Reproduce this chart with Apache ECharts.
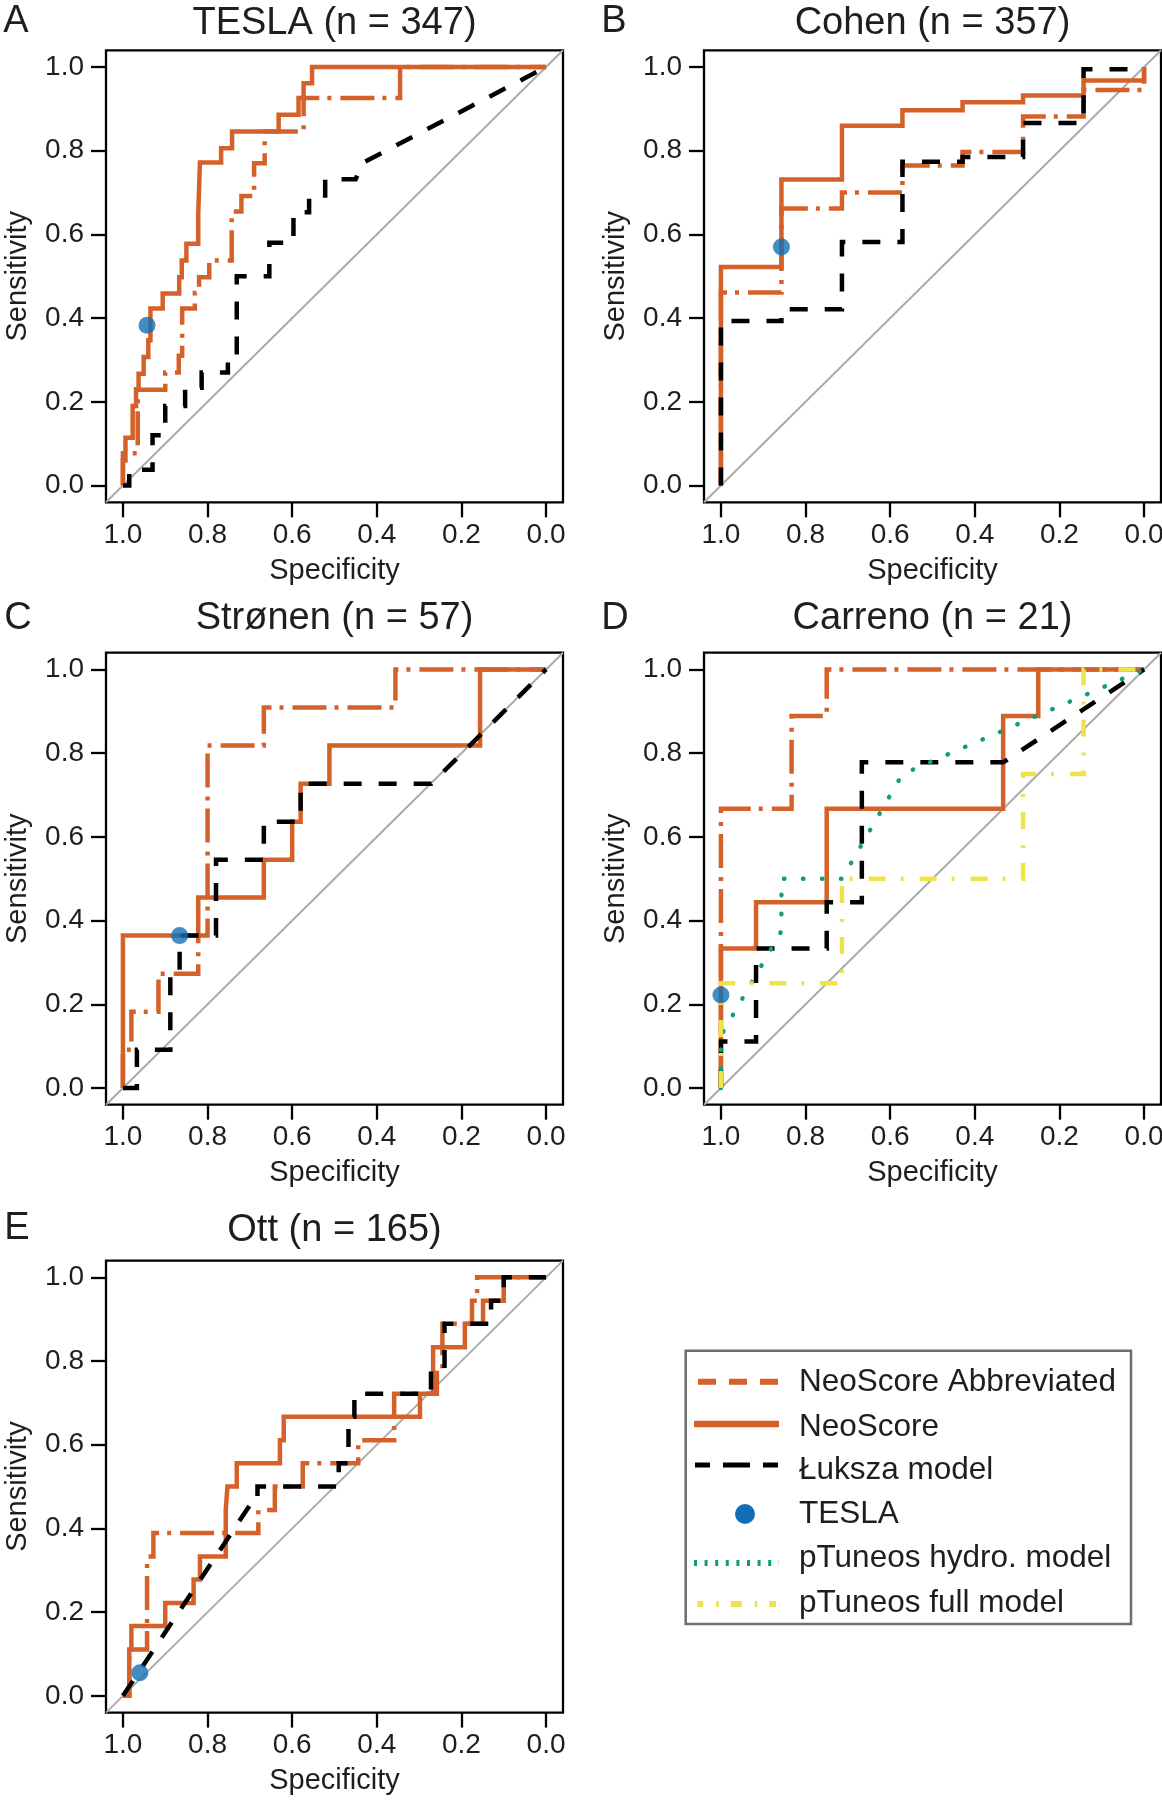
<!DOCTYPE html>
<html><head><meta charset="utf-8">
<script src="https://cdn.jsdelivr.net/npm/echarts@6/dist/echarts.min.js"></script>
<style>html,body{margin:0;padding:0;background:#fff}#c{width:1162px;height:1800px}</style>
</head><body><div id="c"></div>
<script>
// ---------------- DATA ----------------
const panelTitles = ['TESLA (n = 347)', 'Cohen (n = 357)', 'Strønen (n = 57)', 'Carreno (n = 21)', 'Ott (n = 165)'];
const panelLetters = ['A', 'B', 'C', 'D', 'E'];
const tickValues = [0, 0.2, 0.4, 0.6, 0.8, 1.0];
const legendLabels = ['NeoScore Abbreviated', 'NeoScore', 'Łuksza model', 'TESLA', 'pTuneos hydro. model', 'pTuneos full model'];
const chanceLine = [[1.04, -0.04], [-0.04, 1.04]];

// [specificity, sensitivity]
const teslaNeoScore = [[1,0],[1,0.06],[0.994,0.06],[0.994,0.114],[0.977,0.114],[0.977,0.19],[0.969,0.19],[0.969,0.23],[0.963,0.23],[0.963,0.267],[0.951,0.267],[0.951,0.307],[0.94,0.307],[0.94,0.347],[0.935,0.347],[0.935,0.423],[0.906,0.423],[0.906,0.459],[0.867,0.459],[0.867,0.498],[0.861,0.498],[0.861,0.538],[0.85,0.538],[0.85,0.578],[0.822,0.578],[0.822,0.65],[0.818,0.65],[0.818,0.772],[0.768,0.772],[0.768,0.806],[0.742,0.806],[0.742,0.846],[0.632,0.846],[0.632,0.886],[0.585,0.886],[0.585,0.926],[0.573,0.926],[0.573,0.961],[0.553,0.961],[0.553,1],[0,1]];
const teslaAbbrev = [[1,0],[1,0.077],[0.965,0.077],[0.965,0.229],[0.9,0.229],[0.9,0.27],[0.868,0.27],[0.868,0.31],[0.86,0.31],[0.86,0.423],[0.83,0.423],[0.83,0.46],[0.82,0.46],[0.82,0.498],[0.796,0.498],[0.796,0.538],[0.743,0.538],[0.743,0.655],[0.72,0.655],[0.72,0.692],[0.69,0.692],[0.69,0.77],[0.665,0.77],[0.665,0.846],[0.573,0.846],[0.573,0.926],[0.345,0.926],[0.345,1],[0,1]];
const teslaLuksza = [[1,0],[0.985,0],[0.985,0.038],[0.93,0.038],[0.93,0.12],[0.9,0.12],[0.9,0.19],[0.853,0.19],[0.853,0.234],[0.814,0.234],[0.814,0.27],[0.752,0.27],[0.752,0.31],[0.731,0.31],[0.731,0.5],[0.654,0.5],[0.654,0.58],[0.597,0.58],[0.597,0.653],[0.56,0.653],[0.56,0.693],[0.522,0.693],[0.522,0.732],[0.45,0.732],[0.435,0.77],[0,1]];
const teslaPoint = [[0.943,0.383]];

const cohenNeoScore = [[1,0],[1,0.522],[0.857,0.522],[0.857,0.731],[0.714,0.731],[0.714,0.86],[0.571,0.86],[0.571,0.897],[0.429,0.897],[0.429,0.916],[0.286,0.916],[0.286,0.932],[0.143,0.932],[0.143,0.968],[0,0.968],[0,1]];
const cohenAbbrev = [[1,0],[1,0.461],[0.857,0.461],[0.857,0.662],[0.714,0.662],[0.714,0.7],[0.571,0.7],[0.571,0.765],[0.429,0.765],[0.429,0.797],[0.286,0.797],[0.286,0.882],[0.143,0.882],[0.143,0.945],[0,0.945],[0,1]];
const cohenLuksza = [[1,0],[1,0.393],[0.857,0.393],[0.857,0.421],[0.714,0.421],[0.714,0.582],[0.571,0.582],[0.571,0.774],[0.429,0.774],[0.429,0.785],[0.286,0.785],[0.286,0.866],[0.143,0.866],[0.143,0.995],[0,0.995]];
const cohenPoint = [[0.857,0.57]];

const stronenNeoScore = [[1,0],[1,0.364],[0.822,0.364],[0.822,0.455],[0.667,0.455],[0.667,0.545],[0.6,0.545],[0.6,0.636],[0.58,0.636],[0.58,0.727],[0.512,0.727],[0.512,0.818],[0.156,0.818],[0.156,1],[0,1]];
const stronenAbbrev = [[1,0],[1,0.091],[0.98,0.091],[0.98,0.182],[0.916,0.182],[0.916,0.273],[0.822,0.273],[0.822,0.364],[0.8,0.364],[0.8,0.818],[0.667,0.818],[0.667,0.909],[0.356,0.909],[0.356,1],[0,1]];
const stronenLuksza = [[1,0],[0.967,0],[0.967,0.091],[0.888,0.091],[0.888,0.273],[0.866,0.273],[0.866,0.364],[0.78,0.364],[0.78,0.545],[0.667,0.545],[0.667,0.636],[0.58,0.636],[0.58,0.727],[0.271,0.727],[0,1]];
const stronenPoint = [[0.866,0.364]];

const carrenoNeoScore = [[1,0],[1,0.333],[0.917,0.333],[0.917,0.444],[0.75,0.444],[0.75,0.667],[0.333,0.667],[0.333,0.889],[0.25,0.889],[0.25,1],[0,1]];
const carrenoAbbrev = [[1,0],[1,0.667],[0.833,0.667],[0.833,0.889],[0.75,0.889],[0.75,1],[0,1]];
const carrenoLuksza = [[1,0],[1,0.111],[0.917,0.111],[0.917,0.333],[0.75,0.333],[0.75,0.444],[0.667,0.444],[0.667,0.778],[0.333,0.778],[0,1]];
const carrenoHydro = [[1,0],[1,0.125],[0.857,0.375],[0.857,0.5],[0.714,0.5],[0.571,0.75],[0,1]];
const carrenoFull = [[1,0],[1,0.25],[0.714,0.25],[0.714,0.5],[0.286,0.5],[0.286,0.75],[0.143,0.75],[0.143,1],[0,1]];
const carrenoPoint = [[1,0.222]];

const ottNeoScore = [[1,0],[0.985,0],[0.985,0.111],[0.98,0.111],[0.98,0.167],[0.9,0.167],[0.9,0.222],[0.833,0.222],[0.833,0.278],[0.818,0.278],[0.818,0.333],[0.757,0.333],[0.757,0.444],[0.753,0.444],[0.753,0.5],[0.731,0.5],[0.731,0.556],[0.629,0.556],[0.629,0.611],[0.62,0.611],[0.62,0.667],[0.298,0.667],[0.298,0.722],[0.267,0.722],[0.267,0.833],[0.192,0.833],[0.192,0.889],[0.149,0.889],[0.149,0.944],[0.1,0.944],[0.1,1],[0,1]];
const ottAbbrev = [[1,0],[0.985,0],[0.985,0.111],[0.943,0.111],[0.943,0.333],[0.928,0.333],[0.928,0.389],[0.68,0.389],[0.68,0.444],[0.641,0.444],[0.641,0.5],[0.575,0.5],[0.575,0.556],[0.444,0.556],[0.444,0.611],[0.359,0.611],[0.359,0.722],[0.258,0.722],[0.258,0.778],[0.245,0.778],[0.245,0.889],[0.175,0.889],[0.175,0.944],[0.163,0.944],[0.163,1],[0,1]];
const ottLuksza = [[1,0],[0.697,0.46],[0.682,0.46],[0.682,0.5],[0.49,0.5],[0.49,0.556],[0.467,0.556],[0.467,0.667],[0.453,0.667],[0.453,0.722],[0.272,0.722],[0.272,0.778],[0.24,0.778],[0.24,0.889],[0.13,0.889],[0.13,0.944],[0.1,0.944],[0.1,1],[0,1]];
const ottPoint = [[0.96,0.055]];

// ---------------- STYLE / LAYOUT ----------------
const FONT = '"Liberation Sans", Arial, Helvetica, sans-serif';
const ORANGE = '#D5612A', BLACK = '#000000', GREEN = '#109E73', YELLOW = '#EFE34A', BLUE = '#1170B5', GRAY = '#ABABAB', TXT = '#1E1E1E';
const GW = 457, GH = 452;
const layout = [
  {left: 106, top: 50.3, ty: 24, lx: 16, ly: 22},
  {left: 704, top: 50.3, ty: 24, lx: 614, ly: 22},
  {left: 106, top: 652.7, ty: 619, lx: 18, ly: 618.5},
  {left: 704, top: 652.7, ty: 619, lx: 615, ly: 618.5},
  {left: 106, top: 1260.6, ty: 1230.5, lx: 17, ly: 1229}
];
const styles = {
  neo: {color: ORANGE, width: 4.5, type: 'solid', cap: 'butt', join: 'miter'},
  abbrev: {color: ORANGE, width: 4.5, type: [34, 8, 4, 9], cap: 'butt', join: 'miter'},
  luksza: {color: BLACK, width: 4.5, type: [18, 17], cap: 'butt', join: 'miter'},
  hydro: {color: GREEN, width: 4.4, type: [0.5, 18.5], cap: 'round'},
  full: {color: YELLOW, width: 4.5, type: [17, 15, 3, 16], cap: 'butt', join: 'miter'}
};
const panelSeries = [
  [[teslaNeoScore, 'neo'], [teslaAbbrev, 'abbrev'], [teslaLuksza, 'luksza']],
  [[cohenNeoScore, 'neo'], [cohenAbbrev, 'abbrev'], [cohenLuksza, 'luksza']],
  [[stronenNeoScore, 'neo'], [stronenAbbrev, 'abbrev'], [stronenLuksza, 'luksza']],
  [[carrenoNeoScore, 'neo'], [carrenoAbbrev, 'abbrev'], [carrenoLuksza, 'luksza'], [carrenoHydro, 'hydro'], [carrenoFull, 'full']],
  [[ottNeoScore, 'neo'], [ottAbbrev, 'abbrev'], [ottLuksza, 'luksza']]
];
const panelPoints = [teslaPoint, cohenPoint, stronenPoint, carrenoPoint, ottPoint];

const grids = [], xAxes = [], yAxes = [], series = [], graphics = [];
layout.forEach((L, i) => {
  grids.push({left: L.left, top: L.top, width: GW, height: GH, containLabel: false, outerBoundsMode: 'none', show: true, borderColor: '#000', borderWidth: 2.3, backgroundColor: 'rgba(0,0,0,0)'});
  const common = {
    gridIndex: i, type: 'value', min: -0.04, max: 1.04,
    splitLine: {show: false}, axisLine: {show: false, onZero: false},
    axisTick: {show: true, customValues: tickValues, length: 15, inside: false, lineStyle: {color: '#000', width: 2.3}},
    axisLabel: {customValues: tickValues, formatter: v => Number(v).toFixed(1), fontSize: 28, color: TXT, fontFamily: FONT},
    nameLocation: 'middle',
    nameTextStyle: {fontSize: 29, color: TXT, fontFamily: FONT}
  };
  xAxes.push(Object.assign({}, common, {position: 'bottom', inverse: true, name: 'Specificity', nameGap: 54, axisLabel: Object.assign({}, common.axisLabel, {margin: 19})}));
  yAxes.push(Object.assign({}, common, {position: 'left', name: 'Sensitivity', nameGap: 74, axisLabel: Object.assign({}, common.axisLabel, {margin: 22})}));
  series.push({type: 'line', xAxisIndex: i, yAxisIndex: i, data: chanceLine, showSymbol: false, symbol: 'none', silent: true, animation: false, lineStyle: {color: GRAY, width: 2}});
  panelSeries[i].forEach(([d, k]) => {
    series.push({type: 'line', xAxisIndex: i, yAxisIndex: i, data: d, showSymbol: false, symbol: 'none', silent: true, animation: false, lineStyle: styles[k]});
  });
  series.push({type: 'scatter', xAxisIndex: i, yAxisIndex: i, data: panelPoints[i], symbol: 'circle', symbolSize: 17, silent: true, animation: false, itemStyle: {color: BLUE}, z: 5});
  graphics.push({type: 'text', x: L.left + GW / 2, y: L.ty, style: {text: panelTitles[i], fill: TXT, font: '38px ' + FONT, fontSize: 38, fontFamily: FONT, align: 'center', verticalAlign: 'middle', textAlign: 'center', textVerticalAlign: 'middle'}});
  graphics.push({type: 'text', x: L.lx, y: L.ly, style: {text: panelLetters[i], fill: TXT, font: '38px ' + FONT, fontSize: 38, fontFamily: FONT, align: 'center', verticalAlign: 'middle', textAlign: 'center', textVerticalAlign: 'middle'}});
});

// legend
graphics.push({type: 'rect', shape: {x: 685.7, y: 1350.7, width: 445.3, height: 273.3}, style: {fill: '#fff', stroke: '#6E6E6E', lineWidth: 2.5}});
const legY = [1381.7, 1424, 1465, 1514, 1563, 1604];
const legTY = [1382, 1427, 1470, 1514, 1558, 1603];
graphics.push({type: 'line', shape: {x1: 698, y1: legY[0], x2: 778, y2: legY[0]}, style: {stroke: ORANGE, lineWidth: 6, lineDash: [18, 13]}});
graphics.push({type: 'line', shape: {x1: 694, y1: legY[1], x2: 779, y2: legY[1]}, style: {stroke: ORANGE, lineWidth: 6.5}});
graphics.push({type: 'line', shape: {x1: 695, y1: legY[2], x2: 778, y2: legY[2]}, style: {stroke: BLACK, lineWidth: 5, lineDash: [27, 13], lineDashOffset: 12}});
graphics.push({type: 'circle', shape: {cx: 745, cy: legY[3], r: 10}, style: {fill: BLUE}});
graphics.push({type: 'line', shape: {x1: 694, y1: legY[4], x2: 779, y2: legY[4]}, style: {stroke: GREEN, lineWidth: 6, lineDash: [3, 7.6]}});
graphics.push({type: 'line', shape: {x1: 697.3, y1: legY[5], x2: 776, y2: legY[5]}, style: {stroke: YELLOW, lineWidth: 6, lineDash: [11, 13, 2.5, 12], lineDashOffset: 5}});
legendLabels.forEach((t, j) => {
  graphics.push({type: 'text', x: 799, y: legTY[j], style: {text: t, fill: TXT, font: '31.5px ' + FONT, fontSize: 31.5, fontFamily: FONT, align: 'left', verticalAlign: 'middle', textAlign: 'left', textVerticalAlign: 'middle'}});
});

const chart = echarts.init(document.getElementById('c'), null, {renderer: 'canvas'});
chart.setOption({
  animation: false,
  backgroundColor: '#fff',
  grid: grids, xAxis: xAxes, yAxis: yAxes, series: series,
  graphic: {elements: graphics}
});
</script></body></html>
